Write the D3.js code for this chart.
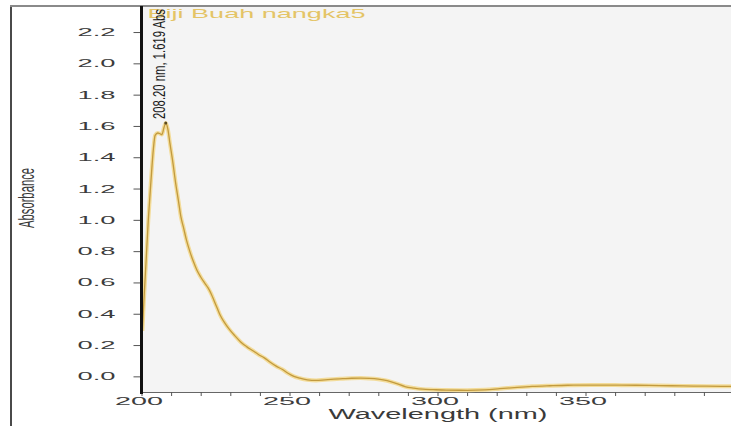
<!DOCTYPE html>
<html>
<head>
<meta charset="utf-8">
<script src="https://cdn.jsdelivr.net/npm/d3@7"></script>
<style>
  html, body { margin: 0; padding: 0; background: #fff; }
  svg { display: block; }
  text { font-family: "Liberation Sans", Arial, sans-serif; }
</style>
</head>
<body>
<div id="wrapper"></div>
<script>
'use strict';

//#region DATA
const sampleName = 'Biji Buah nangka5';
const peakLabel = '208.20 nm, 1.619 Abs';
const peakPoint = [208.2, 1.619];

const wavelengths = [
  200.3, 200.8, 201.5, 202.3, 203.2, 204.0, 204.6, 205.5, 206.3, 206.9,
  207.6, 208.2, 208.9, 209.6, 210.5, 211.5, 212.5, 213.3, 214.2, 215.2,
  216.3, 217.5, 218.7, 220.0, 221.2, 222.5, 223.6, 224.6, 225.6, 226.6,
  228.0, 229.7, 231.5, 233.5, 235.5, 237.5, 239.5, 241.5, 243.5, 245.5,
  247.5, 249.5, 251.5, 253.5, 256, 259, 262, 265, 268, 271,
  274, 277, 280, 283, 286, 289, 292, 295, 298.5, 303,
  310, 316, 321, 327, 332, 338, 344, 352, 360, 367,
  375, 383, 391, 399.5
];
const absorbance = [
  0.29, 0.48, 0.72, 1.00, 1.25, 1.45, 1.54, 1.555, 1.55, 1.545,
  1.59, 1.619, 1.58, 1.49, 1.38, 1.24, 1.12, 1.02, 0.95, 0.87,
  0.80, 0.735, 0.68, 0.635, 0.60, 0.565, 0.525, 0.48, 0.435, 0.39,
  0.345, 0.30, 0.26, 0.22, 0.19, 0.165, 0.14, 0.118, 0.09, 0.065,
  0.045, 0.02, 0.0, -0.012, -0.022, -0.026, -0.022, -0.018, -0.015, -0.012,
  -0.011, -0.013, -0.018, -0.028, -0.045, -0.065, -0.075, -0.082, -0.085, -0.088,
  -0.089, -0.086, -0.079, -0.07, -0.064, -0.06, -0.057, -0.056, -0.056, -0.057,
  -0.059, -0.061, -0.063, -0.064
];

const xTicks = [200, 210, 220, 230, 240, 250, 260, 270, 280, 290, 300, 310, 320, 330, 340, 350, 360, 370, 380, 390];
const yTicks = [0.0, 0.2, 0.4, 0.6, 0.8, 1.0, 1.2, 1.4, 1.6, 1.8, 2.0, 2.2];
const xDomain = [200, 400];
const yDomain = [-0.1, 2.36];

const dataset = wavelengths.map((w, i) => ({ nm: w, abs: absorbance[i] }));
//#endregion DATA

//#region ACCESS DATA
const xAccessor = d => d.nm;
const yAccessor = d => d.abs;
//#endregion ACCESS DATA

//#region CHART DIMENSIONS
let dimensions = {
  width: 731,
  height: 426,
  margin: { top: 7, left: 141.5, bottom: 34 },
  plotWidth: 592
};
dimensions.plotHeight = dimensions.height - dimensions.margin.top - dimensions.margin.bottom;
//#endregion CHART DIMENSIONS

//#region DRAW CANVAS
const wrapper = d3.select('#wrapper')
  .append('svg')
  .attr('width', dimensions.width)
  .attr('height', dimensions.height);

// outer frame (left + top edges only are visible)
wrapper.append('line')
  .attr('x1', 11).attr('x2', 11)
  .attr('y1', 5).attr('y2', dimensions.height)
  .attr('stroke', '#4a4a4a').attr('stroke-width', 2);
wrapper.append('line')
  .attr('x1', 10).attr('x2', dimensions.width)
  .attr('y1', 6).attr('y2', 6)
  .attr('stroke', '#8a8a8a').attr('stroke-width', 2);

const plot = wrapper.append('g')
  .attr('transform', `translate(${dimensions.margin.left}, ${dimensions.margin.top})`);

plot.append('rect')
  .attr('x', 0).attr('y', 0)
  .attr('width', dimensions.plotWidth)
  .attr('height', dimensions.plotHeight)
  .attr('fill', '#f4f4f4');
//#endregion DRAW CANVAS

//#region SCALES
const xScale = d3.scaleLinear()
  .domain(xDomain)
  .range([0, dimensions.plotWidth]);
const yScale = d3.scaleLinear()
  .domain(yDomain)
  .range([dimensions.plotHeight, 0]);
//#endregion SCALES

//#region DRAW PERIPHERALS
const xAxisGenerator = d3.axisBottom(xScale)
  .tickValues(xTicks)
  .tickSize(4)
  .tickPadding(1)
  .tickSizeOuter(0)
  .tickFormat(d => d % 50 === 0 ? d : '');
const xAxis = plot.append('g')
  .attr('transform', `translate(0, ${dimensions.plotHeight})`)
  .call(xAxisGenerator);
xAxis.select('.domain').attr('stroke', '#666');
xAxis.selectAll('.tick line').attr('stroke', '#555');
xAxis.selectAll('.tick text')
  .attr('x', -3)
  .attr('fill', '#3c3c3c')
  .style('font-size', '11px')
  .attr('textLength', d => d % 50 === 0 ? 48 : null)
  .attr('lengthAdjust', 'spacingAndGlyphs');

const yAxisGenerator = d3.axisLeft(yScale)
  .tickValues(yTicks)
  .tickSize(8)
  .tickPadding(18)
  .tickSizeOuter(0)
  .tickFormat(d3.format('.1f'));
const yAxis = plot.append('g').call(yAxisGenerator);
yAxis.select('.domain').remove();
yAxis.selectAll('.tick line').attr('stroke', '#555');
yAxis.selectAll('.tick text')
  .attr('fill', '#3c3c3c')
  .style('font-size', '11px')
  .attr('textLength', 38)
  .attr('lengthAdjust', 'spacingAndGlyphs');

wrapper.append('text')
  .attr('x', 438)
  .attr('y', 419)
  .attr('text-anchor', 'middle')
  .attr('fill', '#3a3a3a')
  .style('font-size', '14px')
  .attr('textLength', 219)
  .attr('lengthAdjust', 'spacingAndGlyphs')
  .text('Wavelength (nm)');

wrapper.append('text')
  .attr('transform', 'translate(34, 198) rotate(-90) scale(1, 2)')
  .attr('text-anchor', 'middle')
  .attr('fill', '#3a3a3a')
  .style('font-size', '11px')
  .attr('textLength', 60)
  .attr('lengthAdjust', 'spacingAndGlyphs')
  .text('Absorbance');

plot.append('text')
  .attr('x', 6)
  .attr('y', 11)
  .attr('fill', '#e4c466')
  .style('font-size', '13px')
  .attr('textLength', 218)
  .attr('lengthAdjust', 'spacingAndGlyphs')
  .text(sampleName);
//#endregion DRAW PERIPHERALS

//#region DRAW DATA
const lineGenerator = d3.line()
  .x(d => xScale(xAccessor(d)))
  .y(d => yScale(yAccessor(d)))
  .curve(d3.curveMonotoneX);

plot.append('path')
  .datum(dataset)
  .attr('d', lineGenerator)
  .attr('fill', 'none')
  .attr('stroke', '#f3dc9a')
  .attr('stroke-width', 4)
  .attr('stroke-linejoin', 'round');
plot.append('path')
  .datum(dataset)
  .attr('d', lineGenerator)
  .attr('fill', 'none')
  .attr('stroke', '#c29a3e')
  .attr('stroke-width', 1.3)
  .attr('stroke-linejoin', 'round');

// thick black left axis drawn over the curve start
plot.append('line')
  .attr('x1', 0).attr('x2', 0)
  .attr('y1', -1).attr('y2', dimensions.plotHeight + 2)
  .attr('stroke', '#111')
  .attr('stroke-width', 3);

// peak marker + label
const px = xScale(peakPoint[0]);
const py = yScale(peakPoint[1]);
plot.append('circle')
  .attr('cx', px).attr('cy', py).attr('r', 1.5)
  .attr('fill', '#5a4a20');
plot.append('text')
  .attr('transform', `translate(${px - 1}, ${py - 4}) rotate(-90) scale(1, 1.4)`)
  .attr('fill', '#1a1a1a')
  .style('font-size', '12px')
  .attr('textLength', 110)
  .attr('lengthAdjust', 'spacingAndGlyphs')
  .text(peakLabel);
//#endregion DRAW DATA
</script>
</body>
</html>
